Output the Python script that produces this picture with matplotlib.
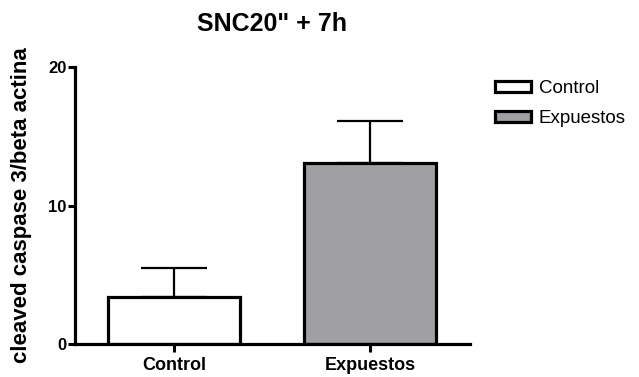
import numpy as np
import matplotlib.pyplot as plt

plt.rcParams['font.family'] = ['Liberation Sans', 'DejaVu Sans']

groups = ["Control", "Expuestos"]
means = [3.4, 13.1]
sems = [2.1, 3.0]
colors = ["white", "#a09fa4"]
title = "SNC20\" + 7h"
ylabel = "cleaved caspase 3/beta actina"

fig = plt.figure(figsize=(6.39, 3.77), dpi=100)
ax = fig.add_axes([75 / 639, 1 - 344 / 377, 395 / 639, 277 / 377])

x = np.arange(len(groups))
bars = ax.bar(x, means, width=0.67, color=colors, edgecolor="black",
              linewidth=2.3, zorder=2)
ax.errorbar(x, means, yerr=[np.zeros(len(sems)), sems], fmt="none",
            ecolor="black", elinewidth=1.6, capsize=24, capthick=1.6, zorder=1)

ax.set_xlim(-0.505, 1.51)
ax.set_ylim(0, 20)
ax.set_yticks([0, 10, 20])
ax.set_xticks(x)
ax.set_xticklabels(groups, fontsize=13, fontweight="bold")
ax.tick_params(axis="y", labelsize=12, width=2.2, length=5, pad=1)
ax.tick_params(axis="x", width=2.2, length=6, pad=3)
for lbl in ax.get_yticklabels():
    lbl.set_fontweight("bold")

for side in ["top", "right"]:
    ax.spines[side].set_visible(False)
for side in ["left", "bottom"]:
    ax.spines[side].set_linewidth(2.3)

ax.set_ylabel(ylabel, fontsize=16, fontweight="bold", labelpad=12)
fig.text(272 / 639, 1 - 24 / 377, title, fontsize=18, fontweight="bold",
         ha="center", va="center")

fig.legend(bars, groups, loc="upper left", bbox_to_anchor=(486 / 639, 1 - 71 / 377),
           frameon=False, fontsize=13.5, borderpad=0, handlelength=1.9,
           handleheight=0.55, handletextpad=0.4, labelspacing=0.68)

fig.savefig("out.png", dpi=100)
